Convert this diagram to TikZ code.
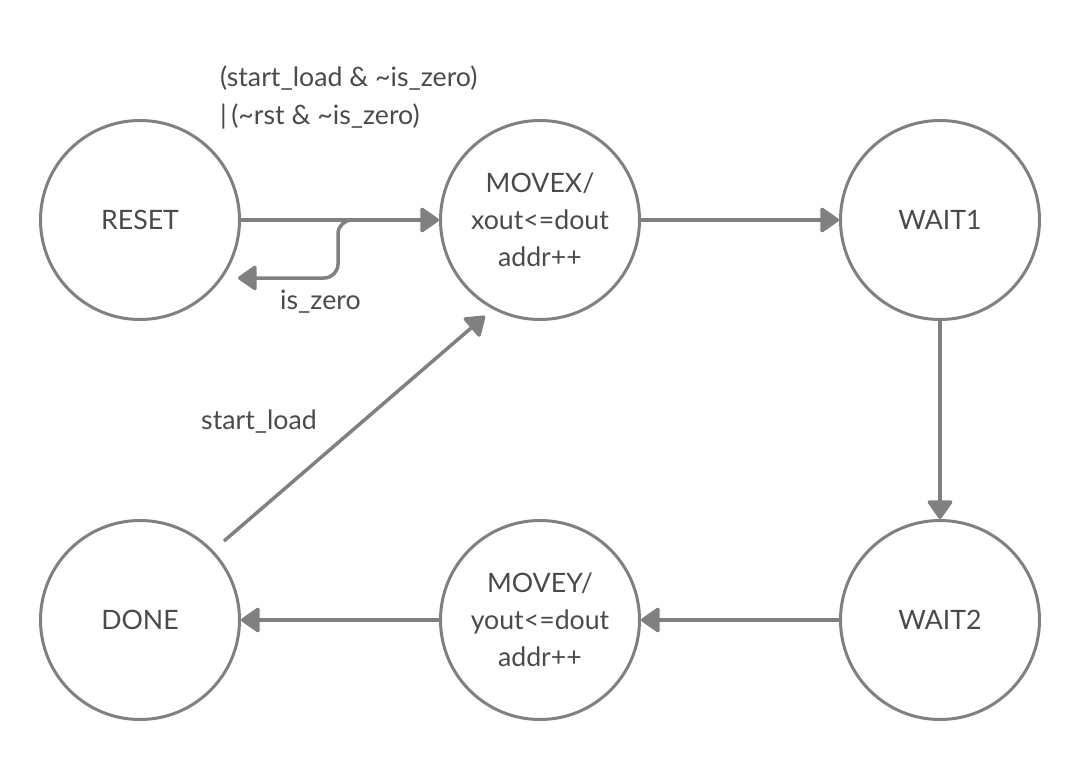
\documentclass[tikz,border=0pt]{standalone}
\usepackage{fontspec}
\setmainfont{Lato}
\usetikzlibrary{arrows.meta,calc}
\definecolor{linegray}{HTML}{808080}
\definecolor{textgray}{HTML}{4A4A4A}
\tikzset{
  state/.style={circle, draw=linegray, line width=3pt, minimum size=199pt, inner sep=0pt,
    align=center, text=textgray, font=\fontsize{26.7}{37}\selectfont},
  conn/.style={draw=linegray, line width=3.5pt,
    -{Triangle[length=20pt,width=27pt,round]}},
  lbl/.style={text=textgray, font=\fontsize{26.7}{37}\selectfont, inner sep=0pt, anchor=base west},
}
\begin{document}
\begin{tikzpicture}[x=1pt,y=-1pt]
\useasboundingbox (0,0) rectangle (1081,760);
\node[state] (reset) at (140,220) {RESET};
\node[state] (movex) at (540,220) {MOVEX/\\xout<=dout\\addr++};
\node[state] (wait1) at (940,220) {WAIT1};
\node[state] (done)  at (140,620) {DONE};
\node[state] (movey) at (540,620) {MOVEY/\\yout<=dout\\addr++};
\node[state] (wait2) at (940,620) {WAIT2};

\draw[conn] (reset.east) -- (movex.west);
\draw[conn] (movex.east) -- (wait1.west);
\draw[conn] (wait1.south) -- (wait2.north);
\draw[conn] (wait2.west) -- (movey.east);
\draw[conn] (movey.west) -- (done.east);
\draw[conn] ([shift={(84,-79)}]done.center) -- ([shift={(-55,96)}]movex.center);
\draw[conn, rounded corners=14pt] ([shift={(217,0)}]reset.center) -- ([shift={(198,0)}]reset.center)
   -- ([shift={(198,58)}]reset.center) -- ([shift={(98,58)}]reset.center);

\node[lbl] (c1) at (220,86) {(start\_load \& \textasciitilde is\_zero)};
\node[lbl] (c2) at (220,124) {|\,(\textasciitilde rst \& \textasciitilde is\_zero)};
\node[lbl] (iz) at (280,309) {is\_zero};
\node[lbl] (sl) at (201,429) {start\_load};
\end{tikzpicture}
\end{document}
